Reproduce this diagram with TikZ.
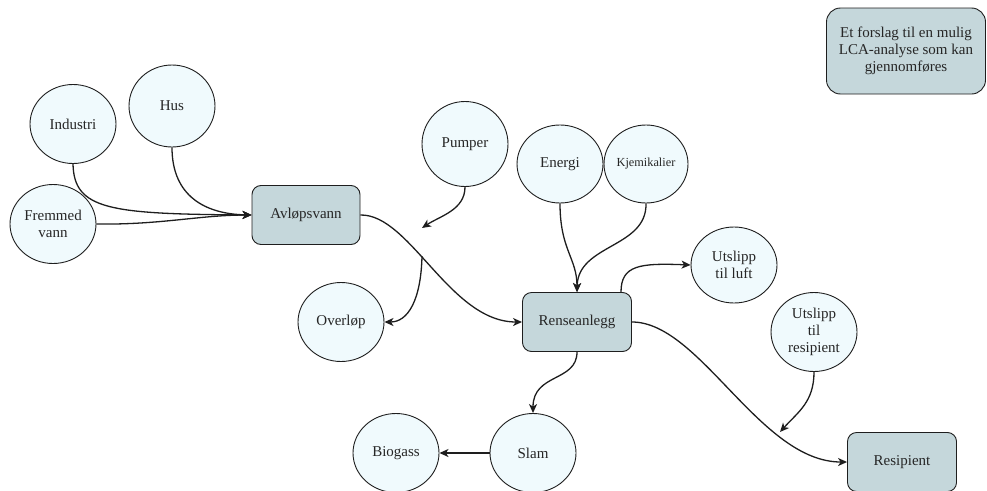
\documentclass[tikz,border=0pt]{standalone}
\usepackage{fontspec}
\setmainfont{Liberation Serif}
\usetikzlibrary{shapes.geometric,arrows.meta}
\definecolor{bubblefill}{HTML}{F0FAFD}
\definecolor{boxfill}{HTML}{C5D7DB}
\definecolor{inkline}{HTML}{1E1E1E}
\begin{document}
\begin{tikzpicture}[x=1pt,y=-1pt,
  bubble/.style={ellipse,draw=inkline,line width=0.9pt,fill=bubblefill,
    minimum width=86pt,minimum height=79pt,inner sep=0pt,align=center,
    font=\fontsize{15}{16.7}\selectfont,text=black!85},
  stage/.style={rectangle,rounded corners=9pt,draw=inkline,line width=0.9pt,fill=boxfill,
    minimum width=108pt,minimum height=59pt,inner sep=0pt,align=center,
    font=\fontsize{15}{16.7}\selectfont,text=black!85},
  flow/.style={draw=inkline,line width=1.3pt,-{Stealth[length=9pt,width=8pt,inset=2.5pt]}}]
\useasboundingbox (0,0) rectangle (987,490);

% sources of waste water
\node[bubble] (ind) at (73,124) {Industri};
\node[bubble,minimum height=82pt] (hus) at (172,106) {Hus};
\node[bubble] (frem) at (53,224) {Fremmed\\vann};
\node[stage] (avl) at (306,215) {Avløpsvann};

% transport
\node[bubble,minimum height=85pt] (pump) at (465,144) {Pumper};
\node[bubble] (over) at (341,322) {Overløp};
\coordinate (pumpend) at (422,228);
\coordinate (overstart) at (422,256);

% treatment plant and its inputs
\node[bubble,minimum height=78pt] (energi) at (560,164) {Energi};
\node[bubble,minimum width=84pt,minimum height=78pt,font=\fontsize{12.3}{14}\selectfont] (kjem) at (646,164) {Kjemikalier};
\node[stage,minimum width=109pt] (rens) at (577,322) {Renseanlegg};

% outputs
\node[bubble,minimum height=76pt] (luft) at (734,265) {Utslipp\\til luft};
\node[bubble] (utres) at (814,332) {Utslipp\\til\\resipient};
\coordinate (utresend) at (780,432);
\node[stage,minimum width=109pt] (resip) at (902,462) {Resipient};
\node[bubble] (slam) at (533,453) {Slam};
\node[bubble] (bio) at (396,453) {Biogass};

% note
\node[stage,minimum width=159pt,minimum height=86pt,rounded corners=14pt] (note) at (906,51)
  {Et forslag til en mulig\\LCA-analyse som kan\\gjennomføres};

% connectors
\draw[flow] (ind.south) .. controls (74,210) and (110,214) .. (avl.west);
\draw[flow] (hus.south) .. controls (172,196) and (205,214) .. (avl.west);
\draw[flow] (frem.east) .. controls (160,225) and (200,215) .. (avl.west);
\draw[flow] (avl.east) .. controls (410,214) and (450,322) .. (rens.west);
\draw[flow] (pump.south) .. controls (465,210) and (440,216) .. (pumpend);
\draw[flow] (overstart) .. controls (421,300) and (408,322) .. (over.east);
\draw[flow] (energi.south) .. controls (560,250) and (577,258) .. (rens.north);
\draw[flow] (kjem.south) .. controls (647,248) and (578,244) .. (rens.north);
\draw[flow] ([xshift=44pt]rens.north) .. controls (621,265) and (640,263) .. (luft.west);
\draw[flow] (rens.east) .. controls (700,322) and (760,462) .. (resip.west);
\draw[flow] (utres.south) .. controls (814,402) and (798,412) .. (utresend);
\draw[flow] (rens.south) .. controls (577,382) and (533,373) .. (slam.north);
\draw[flow] (slam.west) -- (bio.east);
\end{tikzpicture}
\end{document}
